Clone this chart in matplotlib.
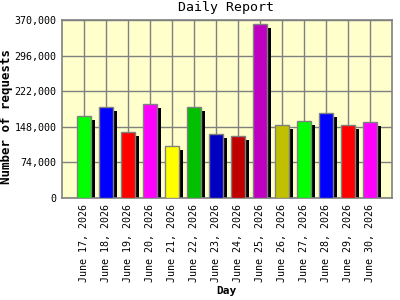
import matplotlib
matplotlib.use("Agg")
import matplotlib.pyplot as plt
import numpy as np

days = ["June 17, 2026", "June 18, 2026", "June 19, 2026", "June 20, 2026",
        "June 21, 2026", "June 22, 2026", "June 23, 2026", "June 24, 2026",
        "June 25, 2026", "June 26, 2026", "June 27, 2026", "June 28, 2026",
        "June 29, 2026", "June 30, 2026"]
requests = [170000, 188500, 136500, 194500, 107500, 189000, 132500, 128000,
            361000, 151500, 160000, 176000, 151500, 158000]
colors = ["#00ff00", "#0000ff", "#ff0000", "#ff00ff", "#ffff00", "#00c000",
          "#0000c0", "#c00000", "#c000c0", "#c0c000", "#00ff00", "#0000ff",
          "#ff0000", "#ff00ff"]
yticks = [0, 74000, 148000, 222000, 296000, 370000]

plt.rcParams['font.family'] = ['DejaVu Sans Mono']

fig = plt.figure(figsize=(4, 3), dpi=100)
ax = fig.add_axes([0.155, 0.34, 0.825, 0.5933])
ax.set_facecolor("#ffffcc")

x = np.arange(1, len(days) + 1)
w = 0.64
ax.bar(x + 0.18, np.array(requests) - 8300, width=w, color="black", zorder=2, linewidth=0)
ax.bar(x, requests, width=w, color=colors, edgecolor="#808080", linewidth=1, zorder=3)

ax.set_xlim(0, 15)
ax.set_ylim(0, 370000)
ax.set_xticks(np.arange(1, 15))
ax.set_xticklabels(days, rotation=90, fontsize=7.2)
ax.set_yticks(yticks)
ax.set_yticklabels([f"{v:,}" for v in yticks], fontsize=7.2)
ax.tick_params(length=0, pad=4)
ax.grid(True, color="#808080", linewidth=1, zorder=1)
ax.set_axisbelow(True)
for s in ax.spines.values():
    s.set_color("#808080")
    s.set_linewidth(1.2)

fig.text(226 / 400, 1 - 8 / 300, "Daily Report", fontsize=9.5, ha="center", va="center")
fig.text(7 / 400, 1 - 116 / 300, "Number of requests", fontsize=9, fontweight="bold",
         rotation=90, ha="center", va="center")
fig.text(226 / 400, 1 - 291 / 300, "Day", fontsize=8, fontweight="bold",
         ha="center", va="center")

fig.savefig("out.png", dpi=100)
